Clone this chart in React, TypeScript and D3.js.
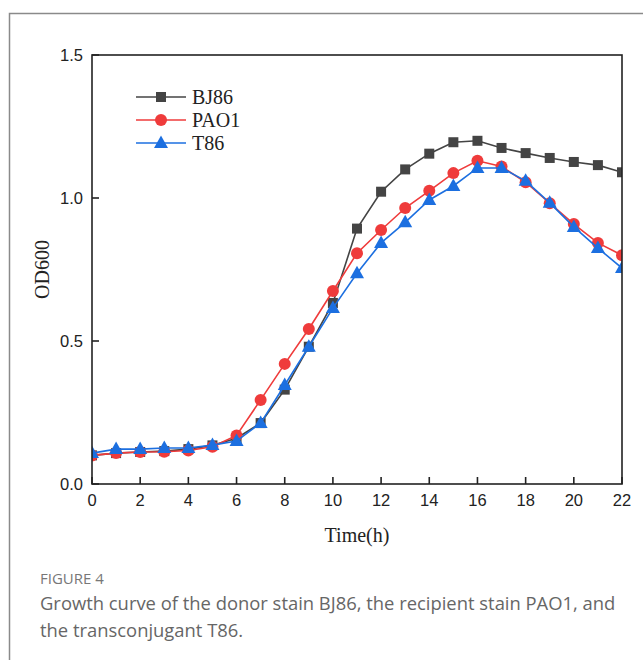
import React from "react";
import * as d3 from "d3";

const hours = [0,1,2,3,4,5,6,7,8,9,10,11,12,13,14,15,16,17,18,19,20,21,22];
const bj86 = [0.10,0.108,0.112,0.115,0.122,0.135,0.16,0.213,0.33,0.48,0.633,0.893,1.022,1.10,1.155,1.195,1.20,1.175,1.157,1.14,1.126,1.115,1.09];
const pao1 = [0.10,0.108,0.112,0.113,0.117,0.13,0.17,0.294,0.42,0.542,0.675,0.807,0.888,0.965,1.025,1.087,1.13,1.11,1.055,0.982,0.909,0.843,0.80];
const t86 = [0.108,0.122,0.122,0.126,0.126,0.136,0.15,0.213,0.346,0.48,0.615,0.737,0.843,0.915,0.993,1.042,1.105,1.105,1.06,0.983,0.899,0.825,0.755];
const xTicks = [0,2,4,6,8,10,12,14,16,18,20,22];
const yTicks = [0.0,0.5,1.0,1.5];
const seriesNames = ["BJ86","PAO1","T86"];
const seriesColors = ["#444444","#ef3b3b","#1c6fe0"];
const seriesMarkers = ["square","circle","triangle"];

const W = 643, H = 660;
const L = 92, R = 622, T = 55, B = 484;

function Marker({ kind, x, y, color }: { kind: string; x: number; y: number; color: string }) {
  if (kind === "square") return <rect x={x - 5} y={y - 5} width={10} height={10} fill={color} />;
  if (kind === "circle") return <circle cx={x} cy={y} r={6} fill={color} />;
  const s = 6.5;
  return <path d={`M${x},${y - s - 1}L${x + s + 0.5},${y + s - 1.5}L${x - s - 0.5},${y + s - 1.5}Z`} fill={color} />;
}

export default function App() {
  const x = d3.scaleLinear().domain([0, 22]).range([L, R]);
  const y = d3.scaleLinear().domain([0, 1.5]).range([B, T]);
  const data = [bj86, pao1, t86];
  const line = d3.line<number>().x((_, i) => x(hours[i])).y((d) => y(d));
  const sans = "'Liberation Sans', Arial, sans-serif";
  const serif = "'Liberation Serif', 'Times New Roman', serif";
  return (
    <div style={{ position: "absolute", left: 0, top: 0 }}>
      <svg width={W} height={H} style={{ display: "block", background: "#fff" }}>
        <path d={`M9.5,${H}V13.5H${W}`} fill="none" stroke="#8a8a8a" strokeWidth={1.5} />
        <defs>
          <clipPath id="plotclip"><rect x={L} y={T - 10} width={R - L} height={B - T + 20} /></clipPath>
        </defs>
        <g clipPath="url(#plotclip)">
          {data.map((s, k) => (
            <g key={k}>
              <path d={line(s) || ""} fill="none" stroke={seriesColors[k]} strokeWidth={1.6} />
              {s.map((v, i) => (
                <Marker key={i} kind={seriesMarkers[k]} x={x(hours[i])} y={y(v)} color={seriesColors[k]} />
              ))}
            </g>
          ))}
        </g>
        <rect x={L} y={T} width={R - L} height={B - T} fill="none" stroke="#222" strokeWidth={1.6} />
        {xTicks.map((t) => (
          <g key={t}>
            <line x1={x(t)} x2={x(t)} y1={B} y2={B - 7} stroke="#222" strokeWidth={1.6} />
            <text x={x(t)} y={B + 22} textAnchor="middle" fontFamily={sans} fontSize={16.5} fill="#222">{t}</text>
          </g>
        ))}
        {yTicks.map((t) => (
          <g key={t}>
            <line x1={L} x2={L + 7} y1={y(t)} y2={y(t)} stroke="#222" strokeWidth={1.6} />
            <text x={L - 9} y={y(t) + 6} textAnchor="end" fontFamily={sans} fontSize={16.5} fill="#222">{t.toFixed(1)}</text>
          </g>
        ))}
        <text x={357} y={542} textAnchor="middle" fontFamily={serif} fontSize={20} fill="#222">Time(h)</text>
        <text transform={`translate(49,${(T + B) / 2}) rotate(-90)`} textAnchor="middle" fontFamily={serif} fontSize={20} fill="#222">OD600</text>
        {seriesNames.map((n, k) => {
          const ly = 97 + k * 23;
          return (
            <g key={n}>
              <line x1={136} x2={186} y1={ly} y2={ly} stroke={seriesColors[k]} strokeWidth={1.6} />
              <Marker kind={seriesMarkers[k]} x={161} y={ly} color={seriesColors[k]} />
              <text x={192} y={ly + 7} fontFamily={serif} fontSize={20} fill="#222">{n}</text>
            </g>
          );
        })}
        <text x={40} y={584} fontFamily="'Open Sans', sans-serif" fontSize={15} fill="#777">FIGURE 4</text>
        <text x={40} y={610} fontFamily="'Open Sans', sans-serif" fontSize={18.4} fill="#666">Growth curve of the donor stain BJ86, the recipient stain PAO1, and</text>
        <text x={40} y={637} fontFamily="'Open Sans', sans-serif" fontSize={18.4} fill="#666">the transconjugant T86.</text>
      </svg>
    </div>
  );
}
